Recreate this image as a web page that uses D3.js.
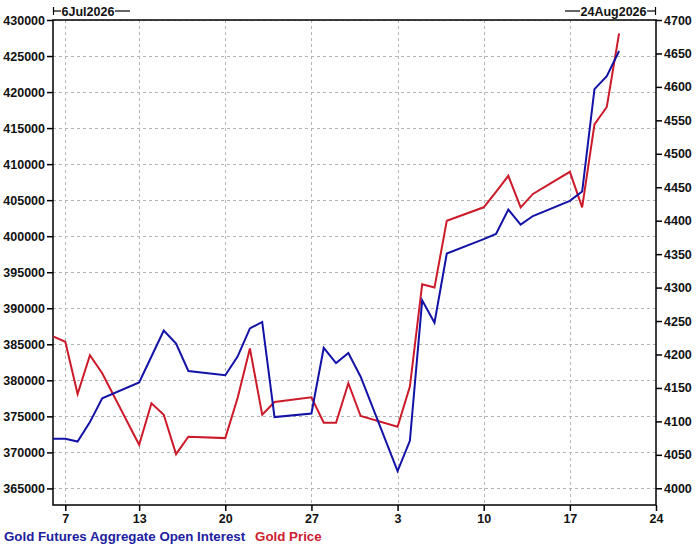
<!DOCTYPE html>
<html>
<head>
<meta charset="utf-8">
<script src="https://cdn.jsdelivr.net/npm/d3@7"></script>
<style>
  html, body { margin: 0; padding: 0; background: #fff; }
  svg { display: block; font-family: "Liberation Sans", Arial, sans-serif; }
  .tick-lbl { font-size: 12.5px; font-weight: bold; fill: #111; }
</style>
</head>
<body>
<svg id="chart" width="697" height="548"></svg>
<script>
const W = 697
const H = 548
const plot = { left: 53, right: 656, top: 20, bottom: 505 }

// trading days
const dates = [
  '2026-07-06', '2026-07-07', '2026-07-08', '2026-07-09', '2026-07-10',
  '2026-07-13', '2026-07-14', '2026-07-15', '2026-07-16', '2026-07-17',
  '2026-07-20', '2026-07-21', '2026-07-22', '2026-07-23', '2026-07-24',
  '2026-07-27', '2026-07-28', '2026-07-29', '2026-07-30', '2026-07-31',
  '2026-08-03', '2026-08-04', '2026-08-05', '2026-08-06', '2026-08-07',
  '2026-08-10', '2026-08-11', '2026-08-12', '2026-08-13', '2026-08-14',
  '2026-08-17', '2026-08-18', '2026-08-19', '2026-08-20', '2026-08-21'
]
const openInterest = [
  371900, 371900, 371500, 374200, 377500,
  379700, 383300, 386900, 385100, 381300,
  380700, 383300, 387200, 388100, 374900,
  375400, 384500, 382400, 383800, 380500,
  367400, 371600, 391100, 388000, 397600,
  399600, 400300, 403700, 401600, 402800,
  404900, 406200, 420400, 422200, 425700
]
const goldPrice = [
  4227, 4219, 4141, 4199, 4172,
  4065, 4127, 4110, 4051, 4077,
  4075, 4135, 4209, 4110, 4129,
  4136, 4098, 4098, 4157, 4108,
  4092, 4152, 4305, 4300, 4400,
  4420, 4443, 4467, 4420, 4440,
  4473, 4420, 4544, 4570, 4680
]
const xTickDates = ['2026-07-07', '2026-07-13', '2026-07-20', '2026-07-27', '2026-08-03', '2026-08-10', '2026-08-17', '2026-08-24']
const leftTicks = d3.range(365000, 430001, 5000)
const rightTicks = d3.range(4000, 4701, 50)
const startLabel = '6Jul2026'
const endLabel = '24Aug2026'
const seriesNames = ['Gold Futures Aggregate Open Interest', 'Gold Price']
const blue = '#1212a6'
const red = '#cc1a2a'

const parse = d3.timeParse('%Y-%m-%d')
const days = dates.map(parse)

const x = d3.scaleTime()
  .domain([parse('2026-07-06'), parse('2026-08-24')])
  .range([plot.left, plot.right])
const yL = d3.scaleLinear()
  .domain([362700, 430000])
  .range([plot.bottom, plot.top])
const yR = d3.scaleLinear()
  .domain([3975, 4700])
  .range([plot.bottom, plot.top])

const svg = d3.select('#chart')

// grid
const grid = svg.append('g')
  .attr('stroke', '#b4b4b4')
  .attr('stroke-dasharray', '3,3')
  .attr('stroke-width', 1)
grid.selectAll('.hg')
  .data(leftTicks)
  .enter()
  .append('line')
  .attr('x1', plot.left)
  .attr('x2', plot.right)
  .attr('y1', d => Math.round(yL(d)) + 0.5)
  .attr('y2', d => Math.round(yL(d)) + 0.5)
grid.selectAll('.vg')
  .data(xTickDates.slice(0, -1))
  .enter()
  .append('line')
  .attr('x1', d => Math.round(x(parse(d))) + 0.5)
  .attr('x2', d => Math.round(x(parse(d))) + 0.5)
  .attr('y1', plot.top)
  .attr('y2', plot.bottom)

// axes
const axL = svg.append('g')
  .attr('transform', `translate(${plot.left},0)`)
  .call(d3.axisLeft(yL).tickValues(leftTicks).tickSize(6).tickPadding(2).tickFormat(d3.format('d')))
const axR = svg.append('g')
  .attr('transform', `translate(${plot.right},0)`)
  .call(d3.axisRight(yR).tickValues(rightTicks).tickSize(6).tickPadding(2).tickFormat(d3.format('d')))
const axB = svg.append('g')
  .attr('transform', `translate(0,${plot.bottom})`)
  .call(d3.axisBottom(x).tickValues(xTickDates.map(parse)).tickSize(6).tickPadding(3).tickFormat(d3.timeFormat('%-d')))
for (const ax of [axL, axR, axB]) {
  ax.select('.domain').remove()
  ax.selectAll('line').attr('stroke', '#000').attr('stroke-width', 1.5)
  ax.selectAll('text').attr('class', 'tick-lbl').attr('fill', '#111')
}

// frame
svg.append('rect')
  .attr('x', plot.left)
  .attr('y', plot.top)
  .attr('width', plot.right - plot.left)
  .attr('height', plot.bottom - plot.top)
  .attr('fill', 'none')
  .attr('stroke', '#000')
  .attr('stroke-width', 1.5)

// header date markers
const hy = 11
const head = svg.append('g').attr('stroke', '#000').attr('stroke-width', 1.2)
head.append('line').attr('x1', plot.left + 0.5).attr('x2', plot.left + 0.5).attr('y1', hy - 4).attr('y2', hy + 4)
head.append('line').attr('x1', plot.left).attr('x2', plot.left + 8).attr('y1', hy).attr('y2', hy)
head.append('line').attr('x1', 115).attr('x2', 130).attr('y1', hy).attr('y2', hy)
head.append('line').attr('x1', plot.right - 0.5).attr('x2', plot.right - 0.5).attr('y1', hy - 4).attr('y2', hy + 4)
head.append('line').attr('x1', plot.right - 9).attr('x2', plot.right).attr('y1', hy).attr('y2', hy)
head.append('line').attr('x1', 565).attr('x2', 580).attr('y1', hy).attr('y2', hy)
svg.append('text').attr('class', 'tick-lbl').attr('x', 61.5).attr('y', hy + 4.5).attr('textLength', 53).text(startLabel)
svg.append('text').attr('class', 'tick-lbl').attr('x', 580.5).attr('y', hy + 4.5).attr('textLength', 66).text(endLabel)

// series
const lineL = d3.line().x((d, i) => x(days[i])).y(d => yL(d))
const lineR = d3.line().x((d, i) => x(days[i])).y(d => yR(d))
svg.append('path')
  .datum(goldPrice)
  .attr('d', lineR)
  .attr('fill', 'none')
  .attr('stroke', red)
  .attr('stroke-width', 2)
svg.append('path')
  .datum(openInterest)
  .attr('d', lineL)
  .attr('fill', 'none')
  .attr('stroke', blue)
  .attr('stroke-width', 2)

// legend
const leg = svg.append('text')
  .attr('x', 4)
  .attr('y', 541)
  .attr('font-size', '13.3px')
  .attr('font-weight', 'bold')
leg.append('tspan').attr('fill', '#2020a0').text(seriesNames[0])
leg.append('tspan').attr('fill', '#cc2030').attr('dx', 10).text(seriesNames[1])
</script>
</body>
</html>
